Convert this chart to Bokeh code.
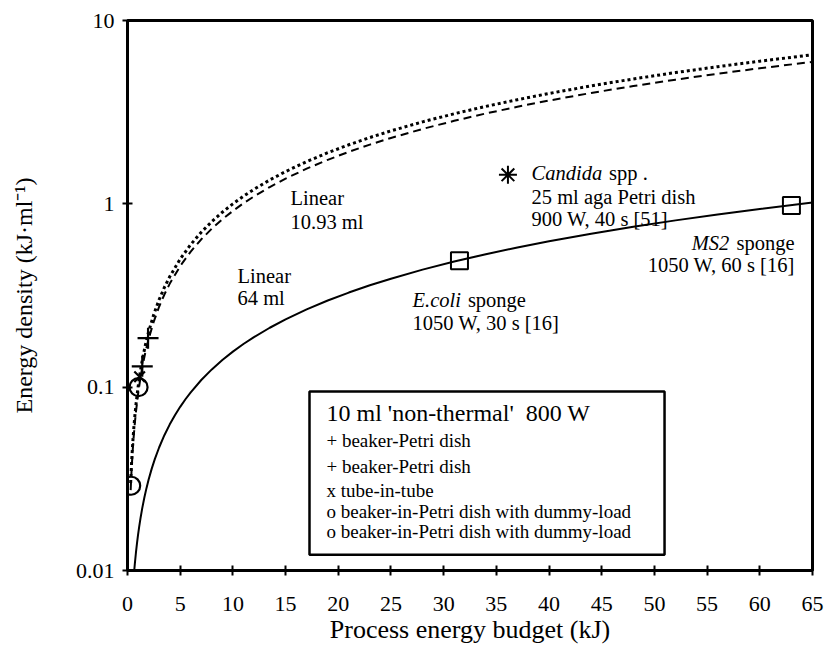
from bokeh.plotting import figure
from bokeh.models import FixedTicker, CustomJSTickFormatter
from bokeh.core.properties import value
from bokeh.embed import file_html
from bokeh.resources import INLINE

FONT = "Liberation Serif"

# ---- data ----
x_ticks = [0, 5, 10, 15, 20, 25, 30, 35, 40, 45, 50, 55, 60, 65]
y_ticks = [0.01, 0.1, 1, 10]
y_tick_labels = ["0.01", "0.1", "1", "10"]

# "Linear 64 ml" (solid)
lin64_x = [0.64, 0.7, 0.8, 0.9, 1.0, 1.1, 1.25, 1.4, 1.6, 1.8, 2, 2.3, 2.6, 3, 3.5,
           4, 4.5, 5, 5.5, 6, 7, 8, 9, 10, 11, 12, 13.5, 15, 17, 19, 21, 23, 25, 28,
           31, 34, 37, 40, 44, 48, 52, 56, 60, 65]
lin64_y = [0.0100, 0.01094, 0.0125, 0.01406, 0.01563, 0.01719, 0.01953, 0.02188,
           0.025, 0.02813, 0.03125, 0.03594, 0.04063, 0.04688, 0.05469, 0.0625,
           0.07031, 0.07813, 0.08594, 0.09375, 0.1094, 0.125, 0.1406, 0.1563,
           0.1719, 0.1875, 0.2109, 0.2344, 0.2656, 0.2969, 0.3281, 0.3594, 0.3906,
           0.4375, 0.4844, 0.5313, 0.5781, 0.625, 0.6875, 0.75, 0.8125, 0.875,
           0.9375, 1.0156]

# 10 ml 'non-thermal' (dotted)
lin10_x = [0.3, 0.35, 0.4, 0.5, 0.6, 0.7, 0.8, 1, 1.2, 1.4, 1.7, 2, 2.5, 3, 3.5, 4,
           5, 6, 7, 8, 9, 10, 11, 12, 13.5, 15, 17, 19, 21, 23, 25, 28, 31, 34, 37,
           40, 44, 48, 52, 56, 60, 65]
lin10_y = [0.03, 0.035, 0.04, 0.05, 0.06, 0.07, 0.08, 0.1, 0.12, 0.14, 0.17, 0.2,
           0.25, 0.3, 0.35, 0.4, 0.5, 0.6, 0.7, 0.8, 0.9, 1.0, 1.1, 1.2, 1.35, 1.5,
           1.7, 1.9, 2.1, 2.3, 2.5, 2.8, 3.1, 3.4, 3.7, 4.0, 4.4, 4.8, 5.2, 5.6,
           6.0, 6.5]

# "Linear 10.93 ml" (dashed)
lin1093_x = [0.3, 0.35, 0.4, 0.5, 0.6, 0.7, 0.8, 1, 1.2, 1.4, 1.7, 2, 2.5, 3, 3.5,
             4, 5, 6, 7, 8, 9, 10, 11, 12, 13.5, 15, 17, 19, 21, 23, 25, 28, 31, 34,
             37, 40, 44, 48, 52, 56, 60, 65]
lin1093_y = [0.02745, 0.03202, 0.0366, 0.04575, 0.05489, 0.06404, 0.07319, 0.09149,
             0.1098, 0.1281, 0.1555, 0.1830, 0.2287, 0.2745, 0.3202, 0.3660, 0.4575,
             0.5489, 0.6404, 0.7319, 0.8234, 0.9149, 1.0064, 1.0979, 1.2351, 1.3724,
             1.5554, 1.7383, 1.9213, 2.1043, 2.2873, 2.5618, 2.8362, 3.1107, 3.3852,
             3.6597, 4.0256, 4.3916, 4.7575, 5.1235, 5.4895, 5.9469]

circle_x = [0.35, 1.05]
circle_y = [0.029, 0.1]
xmark_x = [1.15]
xmark_y = [0.114]
plus_x = [1.4, 1.95]
plus_y = [0.13, 0.185]
square_x = [31.5, 63.0]
square_y = [0.49, 0.98]
star_x = [36.1]
star_y = [1.44]

legend_title = "10 ml 'non-thermal' \u00a0800 W"
legend_items = ["+ beaker-Petri dish", "+ beaker-Petri dish", "x tube-in-tube",
                "o beaker-in-Petri dish with dummy-load",
                "o beaker-in-Petri dish with dummy-load"]

p = figure(width=824, height=650, x_range=(0, 65), y_range=(0.01, 10),
           y_axis_type="log", output_backend="svg", toolbar_location=None,
           min_border_left=127, min_border_right=12, min_border_top=20,
           min_border_bottom=80, background_fill_color="white",
           border_fill_color="white")
p.grid.visible = False
p.outline_line_color = "black"
p.outline_line_width = 3
p.outline_line_alpha = 1

# axes
p.xaxis.ticker = FixedTicker(ticks=x_ticks, minor_ticks=[])
p.yaxis.ticker = FixedTicker(ticks=y_ticks, minor_ticks=[])
p.yaxis.formatter = CustomJSTickFormatter(args=dict(tvals=y_ticks, tlabels=y_tick_labels), code="""
let best = 0, bd = 1e9;
for (let i = 0; i < tvals.length; i++) {
  const d = Math.abs(Math.log10(tvals[i]) - Math.log10(tick));
  if (d < bd) { bd = d; best = i; }
}
return tlabels[best];
""")
for ax in (p.xaxis[0], p.yaxis[0]):
    ax.axis_line_width = 3
    ax.axis_line_color = "black"
    ax.major_tick_line_width = 2
    ax.major_tick_line_color = "black"
    ax.major_tick_in = 5
    ax.major_tick_out = 5
    ax.minor_tick_in = 0
    ax.minor_tick_out = 0
    ax.major_label_text_font = FONT
    ax.major_label_text_font_size = "22px"
    ax.major_label_text_color = "black"
    ax.axis_label_text_font = FONT
    ax.axis_label_text_font_style = "normal"
    ax.axis_label_text_color = "black"

p.xaxis.axis_label = "Process energy budget (kJ)"
p.xaxis.axis_label_text_font_size = "26px"
p.xaxis.major_label_standoff = 21
p.xaxis.axis_label_standoff = 1
p.yaxis.axis_label = "Energy density (kJ\u00b7ml\u207b\u00b9)"
p.yaxis.axis_label_text_font_size = "24px"
p.yaxis.major_label_standoff = 8
p.yaxis.axis_label_standoff = 36

# curves
p.line(lin64_x, lin64_y, line_color="black", line_width=2)
p.line(lin10_x, lin10_y, line_color="black", line_width=3, line_dash="3 3")
p.line(lin1093_x, lin1093_y, line_color="black", line_width=2, line_dash="8 5")

# markers
p.scatter(circle_x, circle_y, marker="circle", size=18, fill_color=None,
          line_color="black", line_width=2.2)
p.scatter(xmark_x, xmark_y, marker="x", size=15, line_color="black", line_width=2.2)
p.scatter(plus_x, plus_y, marker="cross", size=21, line_color="black", line_width=2.2)
p.scatter(square_x, square_y, marker="square", size=17, fill_color=None,
          line_color="black", line_width=2)
p.scatter(star_x, star_y, marker="asterisk", size=18, line_color="black", line_width=2)

# legend box
p.quad(left=[17.27], right=[50.96], top=[0.0947], bottom=[0.0122],
       fill_color="white", line_color="black", line_width=2.5)

def txt(x, y, s, size="20.5px", style="normal", align="left"):
    p.text(x=[x], y=[y], text=[s], text_font=value(FONT), text_font_size=size,
           text_font_style=style, text_align=align, text_baseline="middle",
           text_color="black")

txt(18.88, 0.0727, legend_title, size="24px")
for yy, s in zip([0.0512, 0.0369, 0.0273, 0.0210, 0.01632], legend_items):
    txt(18.88, yy, s, size="19px")

# annotations
txt(15.47, 1.07, "Linear")
txt(15.47, 0.801, "10.93 ml")
txt(10.44, 0.406, "Linear")
txt(10.44, 0.305, "64 ml")
txt(27.05, 0.297, "E.coli", style="italic")
txt(32.3, 0.297, "sponge")
txt(27.05, 0.2225, "1050 W, 30 s [16]")
txt(38.34, 1.464, "Candida", style="italic")
txt(45.7, 1.464, "spp .")
txt(38.34, 1.096, "25 ml aga Petri dish")
txt(38.34, 0.822, "900 W, 40 s [51]")
txt(63.3, 0.615, "sponge", align="right")
txt(57.1, 0.615, "MS2", style="italic", align="right")
txt(63.3, 0.461, "1050 W, 60 s [16]", align="right")

open("out.html", "w").write(file_html(p, INLINE))
